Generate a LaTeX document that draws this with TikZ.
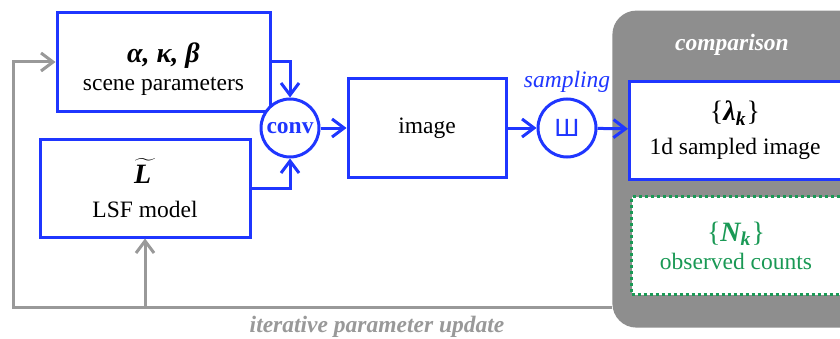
\documentclass[tikz,border=0pt]{standalone}
\usepackage{fontspec}
\setmainfont{Liberation Serif}
\newfontfamily\symfont{DejaVu Sans}
\usetikzlibrary{arrows.meta,positioning}
\definecolor{flow}{HTML}{1F36FF}
\definecolor{loop}{HTML}{999999}
\definecolor{panel}{HTML}{8E8E8E}
\definecolor{obs}{HTML}{1A9955}
\tikzset{
  >={Straight Barb[length=6pt,width=9pt]},
  every node/.style={font=\fontsize{11.75}{14}\selectfont,text=black},
  box/.style={draw=flow,line width=1.5pt,fill=white,minimum height=49pt,align=center,inner sep=2pt},
  opbox/.style={draw=flow,circle,line width=1.5pt,minimum size=29pt,inner sep=0pt,fill=white},
  obsbox/.style={box,draw=obs,dash pattern=on 1.5pt off 1.5pt,text=obs},
  panelbox/.style={fill=panel,rounded corners=12pt,inner sep=0pt},
  arrow/.style={->,line width=1.5pt,draw=flow},
  feedback/.style={->,line width=1.5pt,draw=loop},
  tag/.style={font=\fontsize{11.75}{14}\selectfont\bfseries\itshape},
}
\newcommand{\titl}[1]{{\fontsize{14}{17}\selectfont\bfseries\itshape #1}}
% pads a line on the right, for the boxes cut by the right edge
\newcommand{\padr}{\hspace*{14.5pt}}

\begin{document}
\begin{tikzpicture}[x=1pt,y=1pt]
  \useasboundingbox (0,0) rectangle (420,169);
  \clip (0,0) rectangle (420,169);
  \node[panelbox,anchor=south west,minimum width=160pt,minimum height=158.5pt] (cmp) at (306,5) {};
  \node[tag,text=white] (cmptitle) at (366,146.5) {comparison};
  \node[box,minimum width=106.5pt] (scene) at (81.75,138) {\rule{0pt}{17pt}\titl{α, κ, β}\\scene parameters};
  \node[box,minimum width=105pt] (lsf) at (72.5,75) {\titl{$\widetilde{\mbox{L\,}}$}\\[3pt]LSF model};
  \node[opbox,font=\fontsize{11.75}{14}\selectfont\bfseries,text=flow] (conv) at (145,105) {conv};
  \node[box,minimum width=79pt,right=13pt of conv] (image) {image};
  \node[opbox,right=14.5pt of image,text=flow] (samp) {\symfont Ш};
  \node[text=flow,font=\fontsize{11.75}{14}\selectfont\itshape,above=-1pt of samp] (samptitle) {sampling};
  \node[box,anchor=west,minimum width=120pt] (lam) at (314,103.75)
    {{\fontsize{14}{17}\selectfont\{\titl{λ\textsubscript{k}}\}}\padr\\[3pt]1d sampled image\padr};
  \node[obsbox,anchor=west,minimum width=119pt] (cnt) at (315,46.25)
    {{\fontsize{14}{17}\selectfont\{\titl{N\textsubscript{k}}\}}\padr\\observed counts\padr};
  \draw[arrow] (scene.east) -| (conv.north);
  \draw[arrow] (lsf.east) -| (conv.south);
  \draw[arrow] (conv) -- (image);
  \draw[arrow] (image) -- (samp);
  \draw[arrow] (samp) -- (lam);
  % feedback loop
  \coordinate (ret) at (306,15.5);
  \coordinate (corner) at (6.5,15.5);
  \draw[feedback] (ret) -- (corner) |- (scene.west);
  \draw[feedback] (lsf.south |- ret) -- (lsf.south);
  \node[tag,text=loop] (looptitle) at (188.5,5.5) {iterative parameter update};
\end{tikzpicture}
\end{document}
